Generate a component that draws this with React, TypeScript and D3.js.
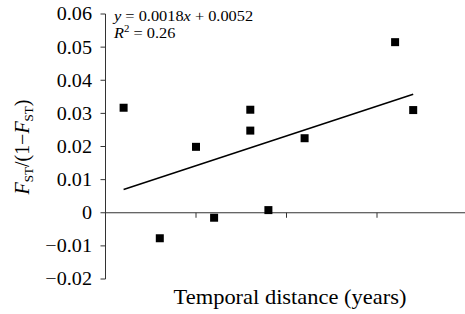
import React from "react";
import * as d3 from "d3";

const xs = [1, 3, 5, 6, 8, 8, 9, 11, 16, 17];
const ys = [0.0317, -0.0077, 0.0199, -0.0015, 0.0311, 0.0248, 0.0008, 0.0225, 0.0515, 0.031];
const yTicks = [-0.02, -0.01, 0, 0.01, 0.02, 0.03, 0.04, 0.05, 0.06];
const xTicks = [5, 10, 15];
const slope = 0.0018;
const intercept = 0.0052;
const fitRange = [1, 17];

const W = 465, H = 314;
const font = "'Liberation Serif', 'Times New Roman', serif";

export default function App() {
  const x = d3.scaleLinear().domain([0, 20]).range([105.5, 467.5]);
  const y = d3.scaleLinear().domain([-0.02, 0.06]).range([279, 14]);
  const fmt = (v: number) => (v === 0 ? "0" : v < 0 ? "\u2212" + Math.abs(v).toFixed(2) : v.toFixed(2));
  const line = d3.line<number>().x((d) => x(d)).y((d) => y(slope * d + intercept));
  const ax = "#333";
  const sq = 8;
  const sx = 1.09;
  return (
    <svg width={W} height={H} style={{ position: "absolute", left: 0, top: 0, background: "#fff" }} fontFamily={font}>
      <line x1={x(0)} x2={x(0)} y1={y(0.06)} y2={y(-0.02)} stroke={ax} strokeWidth={1} />
      <line x1={x(0)} x2={W} y1={y(0)} y2={y(0)} stroke={ax} strokeWidth={1} />
      {yTicks.map((t) => (
        <g key={t}>
          <line x1={x(0) - 5} x2={x(0)} y1={y(t)} y2={y(t)} stroke={ax} />
          <g transform={`translate(92,${y(t)}) scale(${sx},1)`}>
            <text x={0} y={0} dy="0.35em" textAnchor="end" fontSize={18.5} fill="#000">
              {fmt(t)}
            </text>
          </g>
        </g>
      ))}
      {xTicks.map((t) => (
        <line key={t} x1={x(t)} x2={x(t)} y1={y(0)} y2={y(0) + 5} stroke={ax} />
      ))}
      <path d={line(fitRange) || ""} stroke="#000" strokeWidth={1.5} fill="none" />
      {xs.map((v, i) => (
        <rect key={i} x={x(v) - sq / 2} y={y(ys[i]) - sq / 2} width={sq} height={sq} fill="#000" />
      ))}
      <g transform={`translate(114,20.5) scale(${sx},1)`}>
        <text x={0} y={0} fontSize={15}>
          <tspan fontStyle="italic">y</tspan> = 0.0018<tspan fontStyle="italic">x</tspan> + 0.0052
        </text>
      </g>
      <g transform={`translate(114,37.5) scale(${sx},1)`}>
        <text x={0} y={0} fontSize={15}>
          <tspan fontStyle="italic">R</tspan>
          <tspan fontSize={10} dy={-6}>2</tspan>
          <tspan dy={6}> = 0.26</tspan>
        </text>
      </g>
      <text transform={`translate(29,147) rotate(-90)`} textAnchor="middle" fontSize={20}>
        <tspan fontStyle="italic">F</tspan>
        <tspan fontSize={13} dy={4}>ST</tspan>
        <tspan dy={-4}>/(1{"\u2212"}</tspan>
        <tspan fontStyle="italic">F</tspan>
        <tspan fontSize={13} dy={4}>ST</tspan>
        <tspan dy={-4}>)</tspan>
      </text>
      <g transform={`translate(290,303.5) scale(1.07,1)`}>
        <text x={0} y={0} textAnchor="middle" fontSize={21}>
          Temporal distance (years)
        </text>
      </g>
    </svg>
  );
}
